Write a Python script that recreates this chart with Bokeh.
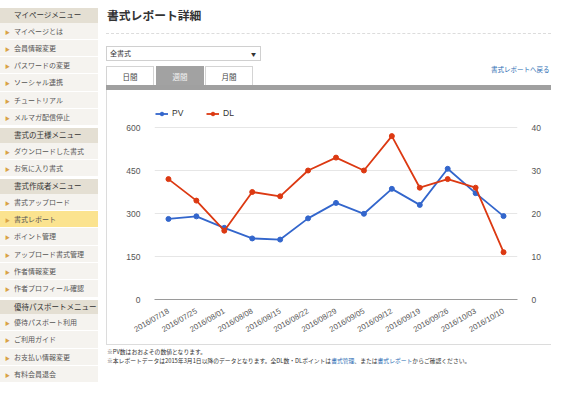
from math import pi
from bokeh.plotting import figure
from bokeh.models import (Range1d, LinearAxis, FixedTicker, Legend, LegendItem,
                          Div, ColumnDataSource, FactorRange)
from bokeh.layouts import row, column
from bokeh.embed import file_html
from bokeh.resources import INLINE

# ---------------- data ----------------
weeks = ["2016/07/18", "2016/07/25", "2016/08/01", "2016/08/08", "2016/08/15",
         "2016/08/22", "2016/08/29", "2016/09/05", "2016/09/12", "2016/09/19",
         "2016/09/26", "2016/10/03", "2016/10/10"]
pv = [281, 290, 250, 213, 209, 283, 337, 299, 386, 330, 456, 371, 291]
dl = [28, 23, 16, 25, 24, 30, 33, 30, 38, 26, 28, 26, 11]
pv_ticks = [0, 150, 300, 450, 600]
dl_ticks = [0, 10, 20, 30, 40]
series_names = ["PV", "DL"]

menu = [
    ("h", "マイページメニュー"),
    ("i", "マイページとは"),
    ("i", "会員情報変更"),
    ("i", "パスワードの変更"),
    ("i", "ソーシャル連携"),
    ("i", "チュートリアル"),
    ("i", "メルマガ配信停止"),
    ("h", "書式の王様メニュー"),
    ("i", "ダウンロードした書式"),
    ("i", "お気に入り書式"),
    ("h", "書式作成者メニュー"),
    ("i", "書式アップロード"),
    ("a", "書式レポート"),
    ("i", "ポイント管理"),
    ("i", "アップロード書式管理"),
    ("i", "作者情報変更"),
    ("i", "作者プロフィール確認"),
    ("h", "優待パスポートメニュー"),
    ("i", "優待パスポート利用"),
    ("i", "ご利用ガイド"),
    ("i", "お支払い情報変更"),
    ("i", "有料会員退会"),
]
page_title = "書式レポート詳細"
select_label = "全書式"
tabs = ["日間", "週間", "月間"]
active_tab = "週間"
back_link = "書式レポートへ戻る"
note1 = "※PV数はおおよその数値となります。"
note2_a = "※本レポートデータは2015年3月1日以降のデータとなります。全DL数・DLポイントは"
note2_link1 = "書式管理"
note2_b = "、または"
note2_link2 = "書式レポート"
note2_c = "からご確認ください。"

BLUE = "#3366cc"
RED = "#dc3912"
LINK = "#2b6cb3"
JP = "'Noto Sans CJK JP', sans-serif"

SIDE_W, GAP = 98, 8
MAIN_W = 551 - SIDE_W - GAP
HEAD_H, CHART_H = 90, 255
FOOT_H = 384 - HEAD_H - CHART_H

# ---------------- sidebar ----------------
parts = []
first = True
for kind, label in menu:
    if kind == "h":
        mt = "0" if first else "2px"
        parts.append(
            f'<div style="box-sizing:border-box;height:14.5px;line-height:14.5px;margin-top:{mt};background:#e4dfd3;'
            f'color:#333;font-size:7.5px;padding-left:14px;white-space:nowrap;">{label}</div>')
        first = False
    else:
        bg = "#fbe38f" if kind == "a" else "#f5f3ef"
        parts.append(
            f'<div style="box-sizing:border-box;height:17.3px;line-height:16.3px;border-bottom:1px solid #ffffff;background:{bg};'
            f'color:#555;font-size:7px;padding-left:5px;white-space:nowrap;">'
            f'<span style="color:#d9a246;font-size:5px;margin-right:4px;">&#9654;</span>{label}</div>')
sidebar_html = (f'<div style="position:relative;width:{SIDE_W + GAP}px;height:384px;overflow:hidden;font-family:{JP};">'
                f'<div style="width:{SIDE_W}px;padding-top:8px;">' + "".join(parts) + '</div></div>')
sidebar = Div(text=sidebar_html, width=SIDE_W + GAP, height=384, margin=(0, 0, 0, 0))

# ---------------- header ----------------
tab_html = []
tab_x = [0, 50, 99]
for tx, t in zip(tab_x, tabs):
    if t == active_tab:
        st = "background:#a2a2a2;color:#f4f4f4;border:1px solid #a2a2a2;"
    else:
        st = "background:#ffffff;color:#444;border:1px solid #d4d4d4;border-bottom:none;"
    tab_html.append(
        f'<div style="position:absolute;left:{tx}px;top:66px;width:48px;height:19px;line-height:19px;'
        f'text-align:center;font-size:7.5px;box-sizing:border-box;{st}">{t}</div>')
header_html = (
    f'<div style="position:relative;width:{MAIN_W}px;height:{HEAD_H}px;overflow:hidden;font-family:{JP};">'
    f'<div style="position:absolute;left:1px;top:7px;font-size:11.8px;line-height:15px;font-weight:bold;color:#333;white-space:nowrap;">{page_title}</div>'
    f'<div style="position:absolute;left:0;top:33px;width:{MAIN_W}px;border-top:1px dashed #dcdcdc;"></div>'
    f'<div style="position:absolute;left:0;top:46px;width:155px;height:15px;border:1px solid #d0d0d0;box-sizing:border-box;">'
    f'<span style="position:absolute;left:3px;top:0;line-height:13px;font-size:7px;color:#333;">{select_label}</span>'
    f'<span style="position:absolute;right:4px;top:0;line-height:13px;font-size:5px;color:#333;">&#9660;</span></div>'
    + "".join(tab_html) +
    f'<div style="position:absolute;left:385px;top:65px;font-size:6.5px;line-height:9px;color:{LINK};white-space:nowrap;">{back_link}</div>'
    f'<div style="position:absolute;left:0;top:85px;width:{MAIN_W}px;height:5px;background:#a0a0a0;"></div>'
    '</div>')
header = Div(text=header_html, width=MAIN_W, height=HEAD_H, margin=(0, 0, 0, 0))

# ---------------- chart ----------------
FRAME_L, FRAME_W = 48, 363
FRAME_T, FRAME_H = 14, 195          # frame includes the legend strip above the top gridline
GRID_H = 172                        # pixel height from 0 to the top gridline
y_top = pv_ticks[-1] * FRAME_H / GRID_H
dl_top = dl_ticks[-1] * FRAME_H / GRID_H

src = ColumnDataSource(data=dict(week=weeks, pv=pv, dl=dl))
p = figure(x_range=FactorRange(factors=weeks), y_range=Range1d(0, y_top),
           width=MAIN_W, height=CHART_H, output_backend="svg", toolbar_location=None,
           min_border_left=FRAME_L, min_border_right=MAIN_W - FRAME_L - FRAME_W,
           min_border_top=FRAME_T, min_border_bottom=CHART_H - FRAME_T - FRAME_H,
           background_fill_color="white", border_fill_color=None, outline_line_color=None,
           margin=(0, 0, 0, 0),
           styles={"box-shadow": "inset 1px 0 0 #dcdcdc, inset 0 -1px 0 #dcdcdc"})
p.extra_y_ranges = {"dl": Range1d(0, dl_top)}

l1 = p.line("week", "pv", source=src, color=BLUE, line_width=1.8)
s1 = p.scatter("week", "pv", source=src, size=5, color=BLUE)
l2 = p.line("week", "dl", source=src, color=RED, line_width=1.8, y_range_name="dl")
s2 = p.scatter("week", "dl", source=src, size=5, color=RED, y_range_name="dl")

rax = LinearAxis(y_range_name="dl", ticker=FixedTicker(ticks=dl_ticks))
p.add_layout(rax, "right")
p.yaxis[0].ticker = FixedTicker(ticks=pv_ticks)
for ax in (p.yaxis[0], rax):
    ax.axis_line_color = None
    ax.major_tick_line_color = None
    ax.minor_tick_line_color = None
    ax.major_label_text_font = "Liberation Sans"
    ax.major_label_text_font_size = "8.5px"
    ax.major_label_text_color = "#555555"
    ax.major_label_standoff = 8

xa = p.xaxis[0]
xa.axis_line_color = "#9a9a9a"
xa.major_tick_line_color = None
xa.minor_tick_line_color = None
xa.major_label_orientation = pi / 6
xa.major_label_standoff = 5
xa.major_label_text_font = "Liberation Sans"
xa.major_label_text_font_size = "7.8px"
xa.major_label_text_color = "#555555"

p.xgrid.visible = False
p.ygrid[0].ticker = FixedTicker(ticks=pv_ticks)
p.ygrid[0].grid_line_color = "#e6e6e6"

legend = Legend(items=[LegendItem(label=series_names[0], renderers=[l1, s1]),
                       LegendItem(label=series_names[1], renderers=[l2, s2])],
                location=(1, 181), orientation="horizontal",
                background_fill_alpha=0, border_line_color=None,
                padding=0, margin=0, spacing=14, glyph_width=13, glyph_height=9,
                label_height=9, label_standoff=4,
                label_text_font="Liberation Sans", label_text_font_size="8.5px",
                label_text_color="#333333")
p.add_layout(legend, "center")

# ---------------- footer ----------------
footer_html = (
    f'<div style="position:relative;width:{MAIN_W}px;height:{FOOT_H}px;overflow:hidden;font-family:{JP};'
    f'font-size:5.8px;line-height:8.6px;color:#333;">'
    f'<div style="position:absolute;left:1px;top:3px;white-space:nowrap;">{note1}<br>'
    f'{note2_a}<span style="color:{LINK};">{note2_link1}</span>{note2_b}'
    f'<span style="color:{LINK};">{note2_link2}</span>{note2_c}</div></div>')
footer = Div(text=footer_html, width=MAIN_W, height=FOOT_H, margin=(0, 0, 0, 0))

main = column(header, p, footer, spacing=0, margin=(0, 0, 0, 0))
page = row(sidebar, main, spacing=0, margin=(0, 0, 0, 0))

open("out.html", "w").write(file_html(page, INLINE))
